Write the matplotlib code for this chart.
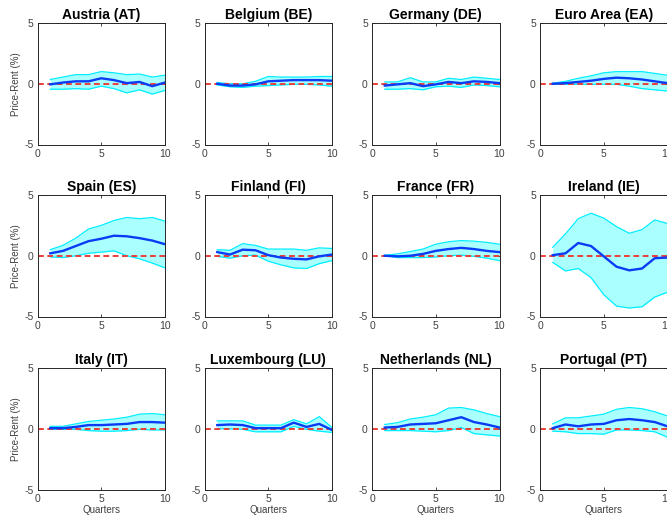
import numpy as np
import matplotlib
matplotlib.use("Agg")
import matplotlib.pyplot as plt

plt.rcParams['font.family'] = ['Liberation Sans', 'DejaVu Sans']
plt.rcParams['axes.unicode_minus'] = False

quarters = np.arange(1, 11)

titles = ['Austria (AT)', 'Belgium (BE)', 'Germany (DE)', 'Euro Area (EA)',
          'Spain (ES)', 'Finland (FI)', 'France (FR)', 'Ireland (IE)',
          'Italy (IT)', 'Luxembourg (LU)', 'Netherlands (NL)', 'Portugal (PT)']

# median responses
at_mid = [-0.05, 0.1, 0.2, 0.2, 0.45, 0.3, 0.05, 0.15, -0.2, 0.1]
be_mid = [0.0, -0.15, -0.15, -0.05, 0.2, 0.25, 0.3, 0.3, 0.3, 0.25]
de_mid = [-0.15, -0.05, 0.05, -0.2, -0.05, 0.15, 0.05, 0.2, 0.15, 0.05]
ea_mid = [0.0, 0.05, 0.15, 0.25, 0.4, 0.5, 0.45, 0.35, 0.2, 0.05]
es_mid = [0.2, 0.4, 0.8, 1.2, 1.4, 1.65, 1.6, 1.45, 1.25, 0.95]
fi_mid = [0.3, 0.1, 0.5, 0.45, 0.05, -0.15, -0.25, -0.3, -0.05, 0.1]
fr_mid = [0.0, -0.05, 0.0, 0.15, 0.4, 0.55, 0.65, 0.55, 0.4, 0.3]
ie_mid = [0.05, 0.2, 1.05, 0.8, -0.05, -0.9, -1.2, -1.05, -0.2, -0.15]
it_mid = [0.05, 0.05, 0.15, 0.3, 0.3, 0.35, 0.4, 0.55, 0.55, 0.5]
lu_mid = [0.3, 0.35, 0.3, 0.05, 0.05, 0.05, 0.5, 0.15, 0.4, -0.1]
nl_mid = [0.1, 0.15, 0.35, 0.4, 0.45, 0.7, 0.95, 0.55, 0.35, 0.1]
pt_mid = [0.05, 0.35, 0.2, 0.35, 0.4, 0.7, 0.8, 0.7, 0.55, 0.2]

# upper bands
at_hi = [0.35, 0.55, 0.75, 0.75, 1.0, 0.9, 0.75, 0.8, 0.55, 0.7]
be_hi = [0.1, 0.0, 0.0, 0.2, 0.6, 0.55, 0.55, 0.55, 0.6, 0.6]
de_hi = [0.15, 0.15, 0.5, 0.15, 0.15, 0.45, 0.35, 0.55, 0.45, 0.35]
ea_hi = [0.05, 0.2, 0.45, 0.65, 0.9, 1.0, 1.0, 1.0, 0.85, 0.7]
es_hi = [0.5, 0.85, 1.45, 2.2, 2.5, 2.9, 3.15, 3.05, 3.15, 2.85]
fi_hi = [0.5, 0.45, 1.0, 0.85, 0.55, 0.55, 0.55, 0.45, 0.65, 0.6]
fr_hi = [0.05, 0.15, 0.35, 0.55, 0.95, 1.15, 1.25, 1.2, 1.1, 0.95]
ie_hi = [0.7, 1.8, 3.05, 3.5, 3.1, 2.4, 1.85, 2.15, 2.95, 2.65]
it_hi = [0.2, 0.2, 0.4, 0.6, 0.7, 0.8, 0.95, 1.2, 1.25, 1.15]
lu_hi = [0.65, 0.65, 0.65, 0.3, 0.3, 0.3, 0.75, 0.4, 1.0, 0.1]
nl_hi = [0.35, 0.5, 0.8, 0.95, 1.15, 1.7, 1.75, 1.55, 1.25, 1.0]
pt_hi = [0.4, 0.9, 0.9, 1.05, 1.2, 1.6, 1.75, 1.65, 1.4, 1.05]

# lower bands
at_lo = [-0.45, -0.45, -0.4, -0.45, -0.2, -0.4, -0.75, -0.5, -0.85, -0.55]
be_lo = [-0.1, -0.25, -0.3, -0.2, -0.15, -0.1, -0.05, -0.05, -0.1, -0.2]
de_lo = [-0.45, -0.45, -0.4, -0.5, -0.25, -0.2, -0.3, -0.1, -0.15, -0.25]
ea_lo = [-0.05, -0.05, -0.05, -0.05, -0.05, -0.05, -0.2, -0.4, -0.5, -0.6]
es_lo = [-0.1, -0.15, 0.0, 0.2, 0.3, 0.4, 0.0, -0.25, -0.6, -1.0]
fi_lo = [-0.05, -0.2, 0.0, 0.05, -0.45, -0.75, -1.0, -1.05, -0.65, -0.4]
fr_lo = [0.0, -0.15, -0.15, -0.15, -0.1, 0.0, 0.05, -0.05, -0.2, -0.4]
ie_lo = [-0.55, -1.25, -1.05, -1.8, -3.2, -4.15, -4.3, -4.2, -3.4, -3.0]
it_lo = [-0.05, -0.05, -0.05, -0.15, -0.2, -0.2, -0.15, -0.05, -0.1, -0.1]
lu_lo = [0.0, 0.0, -0.05, -0.25, -0.25, -0.25, 0.2, -0.05, -0.2, -0.3]
nl_lo = [-0.15, -0.15, -0.15, -0.2, -0.25, -0.15, 0.1, -0.4, -0.5, -0.6]
pt_lo = [-0.2, -0.25, -0.4, -0.4, -0.45, -0.1, -0.1, -0.15, -0.25, -0.7]

mids = [at_mid, be_mid, de_mid, ea_mid, es_mid, fi_mid, fr_mid, ie_mid,
        it_mid, lu_mid, nl_mid, pt_mid]
his = [at_hi, be_hi, de_hi, ea_hi, es_hi, fi_hi, fr_hi, ie_hi,
       it_hi, lu_hi, nl_hi, pt_hi]
los = [at_lo, be_lo, de_lo, ea_lo, es_lo, fi_lo, fr_lo, ie_lo,
       it_lo, lu_lo, nl_lo, pt_lo]

fig = plt.figure(figsize=(6.67, 5.17), dpi=100)

W, H = 667, 517
lefts = [37.5, 204.5, 372, 540]
tops = [23, 195, 368]
aw, ah = 127.5, 121.5

for i in range(12):
    r, c = divmod(i, 4)
    ax = fig.add_axes([lefts[c] / W, 1 - (tops[r] + ah) / H, aw / W, ah / H])
    ax.fill_between(quarters, los[i], his[i], color='#aaffff', lw=0)
    ax.plot(quarters, his[i], color='#00eeff', lw=0.9)
    ax.plot(quarters, los[i], color='#00eeff', lw=0.9)
    ax.plot([0, 10], [0, 0], color='#e8403a', lw=1.4, ls=(0, (3, 1.8)))
    ax.plot(quarters, mids[i], color='#0a3cf5', lw=1.7)
    ax.set_xlim(0, 10)
    ax.set_ylim(-5, 5)
    ax.set_xticks([0, 5, 10])
    ax.set_yticks([-5, 0, 5])
    ax.tick_params(direction='in', length=2, width=0.6, labelsize=7.5,
                   colors='#262626', labelcolor='#404040', pad=3,
                   top=True, right=True)
    for s in ax.spines.values():
        s.set_color('#262626')
        s.set_linewidth(0.7)
    ax.set_title(titles[i], fontsize=10, fontweight='bold', pad=3)
    if c == 0:
        ax.set_ylabel('Price-Rent (%)', fontsize=7, color='#404040', labelpad=2)
    if r == 2:
        ax.set_xlabel('Quarters', fontsize=7, color='#404040', labelpad=1)

fig.savefig('out.png', dpi=100)
